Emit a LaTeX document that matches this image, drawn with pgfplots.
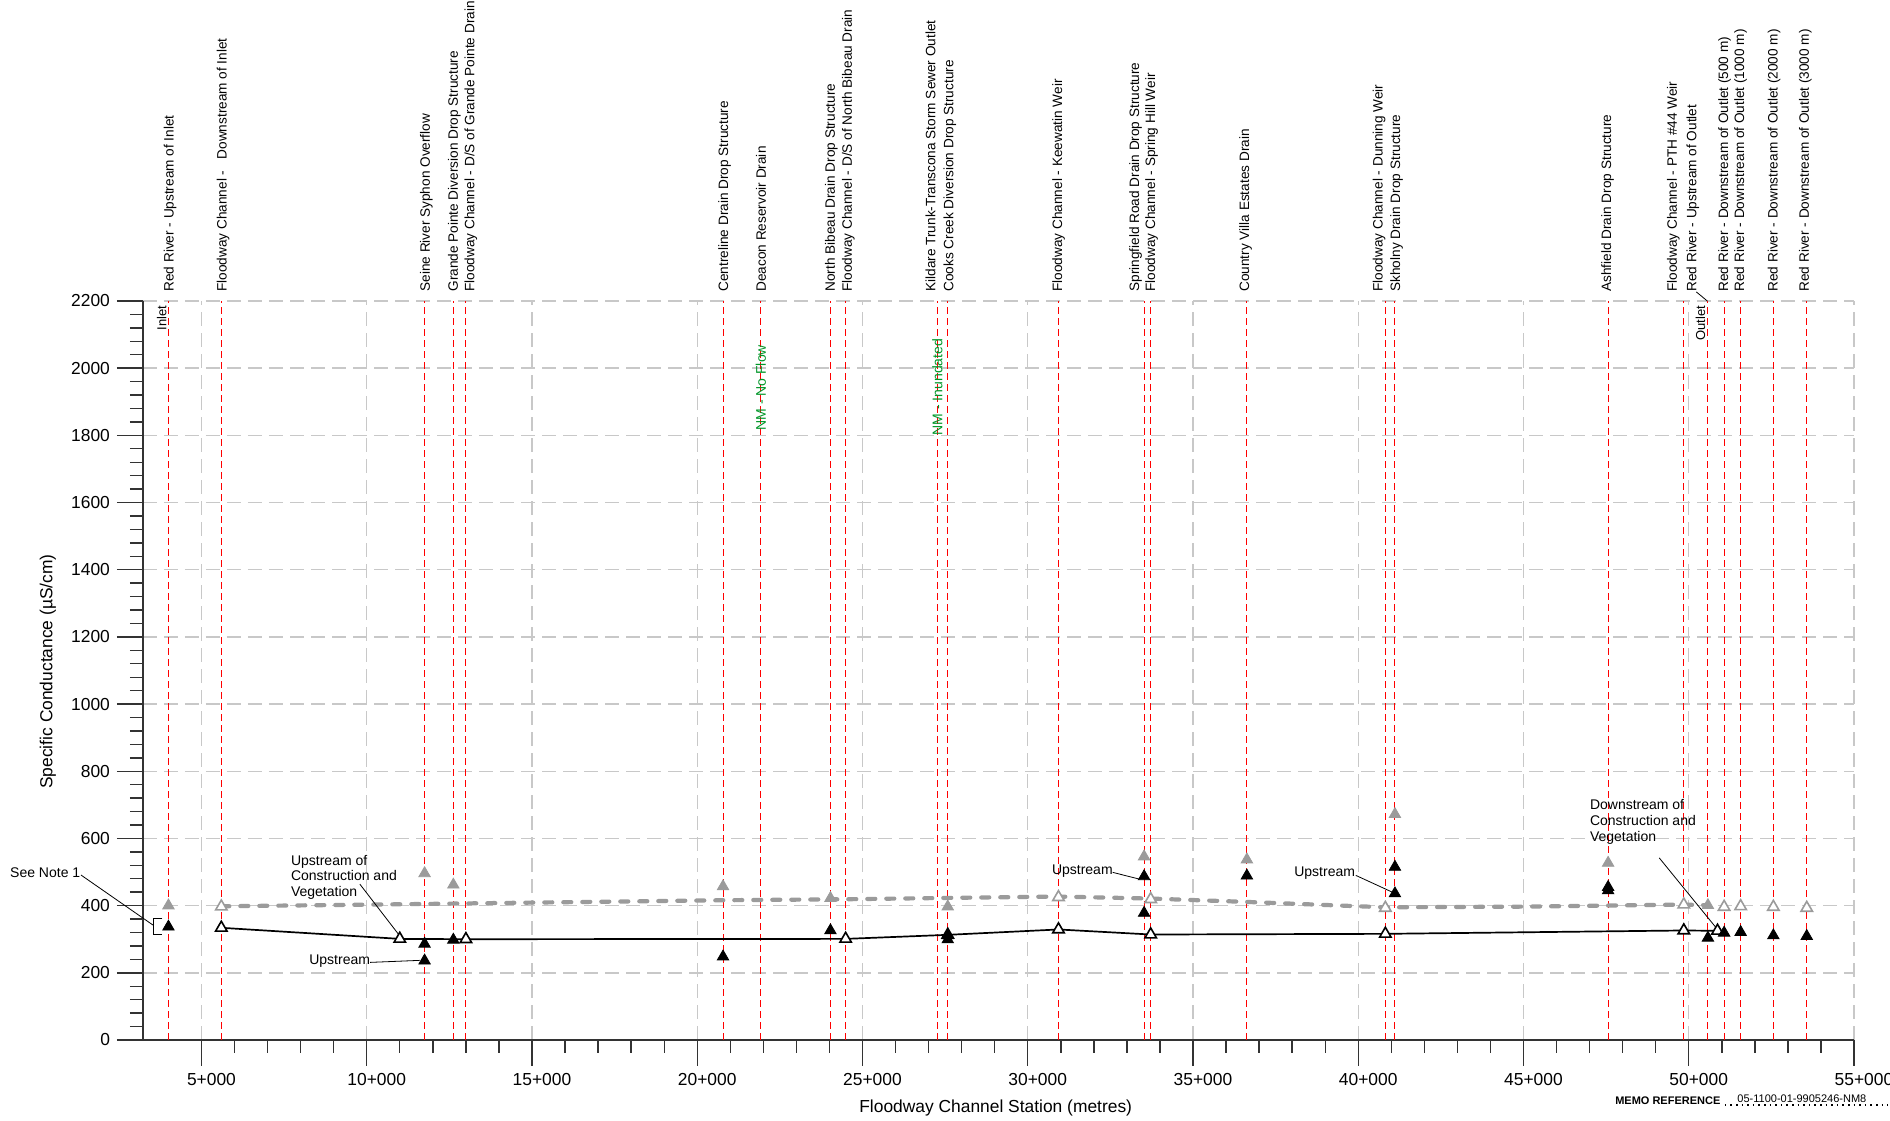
\documentclass[border=0pt]{standalone}
\usepackage{pgfplots}
\pgfplotsset{compat=1.18}
\usepackage{fontspec}
\setmainfont{Liberation Sans}
\definecolor{gridgray}{RGB}{200,200,200}
\definecolor{dgray}{RGB}{155,155,155}
\definecolor{nmgreen}{RGB}{0,150,40}
\newcommand\tickfont{\fontsize{8.7pt}{10pt}\selectfont}
\newcommand\labfont{\fontsize{6.8pt}{8pt}\selectfont}
\newcommand\annfont{\fontsize{7pt}{7.9pt}\selectfont}
\begin{document}
\begin{tikzpicture}
\begin{axis}[
  scale only axis, width=855.5pt, height=369.5pt,
  xmin=3230, xmax=55000, ymin=0, ymax=2200,
  axis x line=bottom, axis y line=left,
  axis line style={-, line width=0.9pt, black!80},
  xtick={5000,10000,...,55000},
  xticklabels={5+000,10+000,15+000,20+000,25+000,30+000,35+000,40+000,45+000,50+000,55+000},
  scaled x ticks=false,
  minor x tick num=4,
  ytick={0,200,...,2200},
  minor y tick num=4,
  tick align=outside,
  major tick length=13pt, minor tick length=6.5pt,
  tick style={line width=0.7pt, black!80},
  grid=major,
  major grid style={gridgray, line width=0.7pt, dash pattern=on 7pt off 3.5pt},
  /pgf/number format/assume math mode=true,
  /pgf/number format/1000 sep={},
  ticklabel style={font=\tickfont},
  xticklabel style={anchor=north, xshift=5pt},
  yticklabel style={anchor=east},
  clip=false,
]
\coordinate (SW) at (rel axis cs:0,0);
\coordinate (NE) at (rel axis cs:1,1);

% station lines
\pgfplotsinvokeforeach{4000,5600,11750,12620,13000,20780,21920,24030,24490,27260,27580,30930,33520,33720,36630,40820,41110,47560,49850,50580,51070,51570,52560,53570}{
  \draw[red, line width=0.5pt, dash pattern=on 3.5pt off 2pt] (axis cs:#1,0) -- (axis cs:#1,2200);
}

% gray dashed profile
\addplot[dgray, line width=2.1pt, line cap=round, dash pattern=on 4pt off 5.5pt, mark=none] coordinates {
(5600,398) (11000,404) (15000,409) (20780,416) (24490,419) (27580,423) (30930,427) (33720,421) (36630,411) (40820,395) (45000,397) (49850,403) (50580,401)};
% gray filled
\addplot[only marks, mark=triangle*, mark size=3.3pt, mark options={fill=dgray, draw=dgray}] coordinates {
(4000,400) (11750,496) (12620,462) (20780,457) (24030,422) (27580,397) (33520,546) (36630,537) (41110,672) (47560,527) (50580,401)};
% gray open
\addplot[only marks, mark=triangle*, mark size=3.3pt, mark options={fill=white, draw=dgray, line width=0.8pt}] coordinates {
(5600,397) (30930,425) (33720,419) (40820,393) (49850,403) (51070,396) (51570,398) (52560,396) (53570,393)};
% black line with open triangles
\addplot[black, line width=0.85pt, mark=triangle*, mark size=3.3pt, mark options={fill=white, draw=black, line width=0.8pt, solid}] coordinates {
(5600,334) (11000,301) (13000,300) (24490,301) (27580,313) (30930,329) (33720,314) (40820,316) (49850,326) (50870,325)};
% black filled
\addplot[only marks, mark=triangle*, mark size=3.3pt, mark options={fill=black, draw=black}] coordinates {
(4000,337) (11750,286) (11750,236) (12620,298) (20780,248) (24030,326) (27580,311) (27580,299) (33520,487) (33520,378) (36630,489) (41110,515) (41110,436) (47560,455) (47560,445) (50580,304) (51070,319) (51570,321) (52560,311) (53570,309)};

% top labels
\tikzset{toplab/.style={rotate=90, anchor=west, font=\labfont, inner sep=0pt, text height=0.72em, text depth=0.2em}}
\node[toplab] at (axis cs:4000,2227) {Red River - Upstream of Inlet};
\node[toplab] at (axis cs:5600,2227) {Floodway Channel -\ \ \ Downstream of Inlet};
\node[toplab] at (axis cs:11750,2227) {Seine River Syphon Overflow};
\node[toplab] at (axis cs:12600,2227) {Grande Pointe Diversion Drop Structure};
\node[toplab] at (axis cs:13100,2227) {Floodway Channel - D/S of Grande Pointe Drain};
\node[toplab] at (axis cs:20780,2227) {Centreline Drain Drop Structure};
\node[toplab] at (axis cs:21920,2227) {Deacon Reservoir Drain};
\node[toplab] at (axis cs:24010,2227) {North Bibeau Drain Drop Structure};
\node[toplab] at (axis cs:24520,2227) {Floodway Channel - D/S of North Bibeau Drain};
\node[toplab] at (axis cs:27050,2227) {Kildare Trunk-Transcona Storm Sewer Outlet};
\node[toplab] at (axis cs:27590,2227) {Cooks Creek Diversion Drop Structure};
\node[toplab] at (axis cs:30880,2227) {Floodway Channel - Keewatin Weir};
\node[toplab] at (axis cs:33210,2227) {Springfield Road Drain Drop Structure};
\node[toplab] at (axis cs:33700,2227) {Floodway Channel - Spring Hill Weir};
\node[toplab] at (axis cs:36540,2227) {Country Villa Estates Drain};
\node[toplab] at (axis cs:40580,2227) {Floodway Channel - Dunning Weir};
\node[toplab] at (axis cs:41110,2227) {Skholny Drain Drop Structure};
\node[toplab] at (axis cs:47490,2227) {Ashfield Drain Drop Structure};
\node[toplab] at (axis cs:49480,2227) {Floodway Channel - PTH \#44 Weir};
\node[toplab] at (axis cs:50070,2227) {Red River - Upstream of Outlet};
\node[toplab] at (axis cs:51030,2227) {Red River - Downstream of Outlet (500 m)};
\node[toplab] at (axis cs:51520,2227) {Red River - Downstream of Outlet (1000 m)};
\node[toplab] at (axis cs:52530,2227) {Red River - Downstream of Outlet (2000 m)};
\node[toplab] at (axis cs:53480,2227) {Red River - Downstream of Outlet (3000 m)};
\draw[black, line width=0.4pt] (axis cs:50230,2227) -- (axis cs:50560,2200);

\node[rotate=90, anchor=south east, font=\fontsize{6.5pt}{7.5pt}\selectfont, inner sep=0.5pt] at (axis cs:3980,2190) {Inlet};
\node[rotate=90, anchor=south east, font=\fontsize{6.5pt}{7.5pt}\selectfont, inner sep=0.5pt] at (axis cs:50540,2190) {Outlet};

\node[rotate=90, anchor=west, text=nmgreen, font=\annfont, inner sep=0pt, text height=0.72em, text depth=0.2em] at (axis cs:21920,1813) {NM - No Flow};
\node[rotate=90, anchor=west, text=nmgreen, font=\annfont, inner sep=0pt, text height=0.72em, text depth=0.2em] at (axis cs:27260,1799) {NM - Inundated};

% annotations
\node[anchor=west, font=\annfont, inner sep=0pt] at (axis cs:-800,499) {See Note 1};
\draw[black, line width=0.4pt] (axis cs:1355,491) -- (axis cs:3534,342);
\draw[black, line width=0.5pt] (axis cs:3818,363) -- (axis cs:3534,363) -- (axis cs:3534,313) -- (axis cs:3818,313);

\node[anchor=north west, align=left, font=\annfont, inner sep=0pt] at (axis cs:7697,552) {Upstream of\\Construction and\\Vegetation};
\draw[black, line width=0.4pt] (axis cs:9791,464) -- (axis cs:10998,310);
\node[anchor=west, font=\annfont, inner sep=0pt] at (axis cs:8251,234) {Upstream};
\draw[black, line width=0.4pt] (axis cs:10099,231) -- (axis cs:11601,237);
\node[anchor=west, font=\annfont, inner sep=0pt] at (axis cs:30722,502) {Upstream};
\draw[black, line width=0.4pt] (axis cs:32571,499) -- (axis cs:33372,479);
\node[anchor=west, font=\annfont, inner sep=0pt] at (axis cs:38053,498) {Upstream};
\draw[black, line width=0.4pt] (axis cs:39926,490) -- (axis cs:41010,441);
\node[anchor=north west, align=left, font=\annfont, inner sep=0pt] at (axis cs:47000,717) {Downstream of\\Construction and\\Vegetation};
\draw[black, line width=0.4pt] (axis cs:49108,542) -- (axis cs:50870,329);

% axis labels
\node[font=\tickfont] at (axis cs:29030,-202) {Floodway Channel Station (metres)};
\node[rotate=90, font=\tickfont] at (axis cs:350,1097) {Specific Conductance (µS/cm)};

% memo reference
\node[anchor=west, font=\bfseries\fontsize{5.5pt}{6pt}\selectfont, inner sep=0pt] at (axis cs:47764,-181) {MEMO REFERENCE};
\node[anchor=west, font=\fontsize{5.5pt}{6pt}\selectfont, inner sep=0pt] at (axis cs:51462,-174) {05-1100-01-9905246-NM8};
\draw[black, line width=0.8pt, dotted] (axis cs:51092,-194) -- (axis cs:56022,-194);
\end{axis}
\pgfresetboundingbox
\path ([xshift=-71.5pt,yshift=-40.5pt]SW) rectangle ([xshift=18pt,yshift=150.5pt]NE);
\end{tikzpicture}
\end{document}
